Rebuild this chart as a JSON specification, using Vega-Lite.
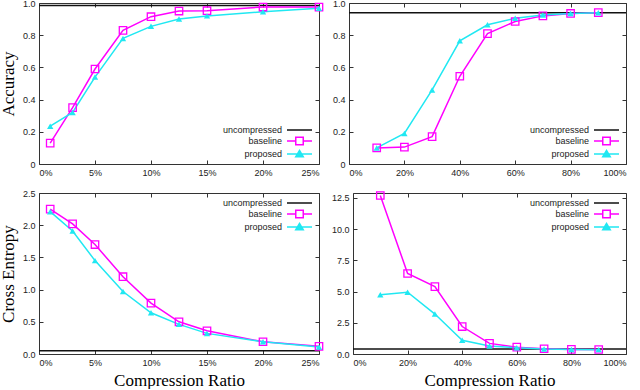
{
  "$schema": "https://vega.github.io/schema/vega-lite/v6.json",
  "padding": {"top": -2, "left": -2, "right": 0, "bottom": 0},
  "background": "white",
  "config": {
    "view": {"stroke": "#333", "strokeWidth": 1},
    "axis": {"labelFont": "Liberation Sans", "labelFontSize": 9, "labelColor": "#222", "tickColor": "#333", "tickSize": -4, "domain": false, "grid": false, "labelPadding": 8, "titleFont": "Liberation Serif", "titleFontSize": 17, "titleFontWeight": "normal", "titleColor": "#000"},
    "legend": {"labelFont": "Liberation Sans", "labelFontSize": 9, "labelColor": "#222", "symbolSize": 100, "symbolStrokeWidth": 1.5, "rowPadding": -1.5, "offset": 4, "padding": 0, "title": null}
  },
  "datasets": {
    "d": [
      {"panel": "TL", "series": "uncompressed", "ratio": 0, "value": 0.985},
      {"panel": "TL", "series": "uncompressed", "ratio": 25, "value": 0.985},
      {"panel": "TL", "series": "baseline", "ratio": 1, "value": 0.13},
      {"panel": "TL", "series": "baseline", "ratio": 3, "value": 0.35},
      {"panel": "TL", "series": "baseline", "ratio": 5, "value": 0.59},
      {"panel": "TL", "series": "baseline", "ratio": 7.5, "value": 0.83},
      {"panel": "TL", "series": "baseline", "ratio": 10, "value": 0.915},
      {"panel": "TL", "series": "baseline", "ratio": 12.5, "value": 0.95},
      {"panel": "TL", "series": "baseline", "ratio": 15, "value": 0.952},
      {"panel": "TL", "series": "baseline", "ratio": 20, "value": 0.975},
      {"panel": "TL", "series": "baseline", "ratio": 25, "value": 0.975},
      {"panel": "TL", "series": "proposed", "ratio": 1, "value": 0.235},
      {"panel": "TL", "series": "proposed", "ratio": 3, "value": 0.32},
      {"panel": "TL", "series": "proposed", "ratio": 5, "value": 0.54},
      {"panel": "TL", "series": "proposed", "ratio": 7.5, "value": 0.78},
      {"panel": "TL", "series": "proposed", "ratio": 10, "value": 0.855},
      {"panel": "TL", "series": "proposed", "ratio": 12.5, "value": 0.9},
      {"panel": "TL", "series": "proposed", "ratio": 15, "value": 0.92},
      {"panel": "TL", "series": "proposed", "ratio": 20, "value": 0.945},
      {"panel": "TL", "series": "proposed", "ratio": 25, "value": 0.968},
      {"panel": "TR", "series": "uncompressed", "ratio": 0, "value": 0.94},
      {"panel": "TR", "series": "uncompressed", "ratio": 100, "value": 0.94},
      {"panel": "TR", "series": "baseline", "ratio": 10, "value": 0.1},
      {"panel": "TR", "series": "baseline", "ratio": 20, "value": 0.105},
      {"panel": "TR", "series": "baseline", "ratio": 30, "value": 0.17},
      {"panel": "TR", "series": "baseline", "ratio": 40, "value": 0.545},
      {"panel": "TR", "series": "baseline", "ratio": 50, "value": 0.81},
      {"panel": "TR", "series": "baseline", "ratio": 60, "value": 0.885},
      {"panel": "TR", "series": "baseline", "ratio": 70, "value": 0.92},
      {"panel": "TR", "series": "baseline", "ratio": 80, "value": 0.935},
      {"panel": "TR", "series": "baseline", "ratio": 90, "value": 0.94},
      {"panel": "TR", "series": "proposed", "ratio": 10, "value": 0.1},
      {"panel": "TR", "series": "proposed", "ratio": 20, "value": 0.19},
      {"panel": "TR", "series": "proposed", "ratio": 30, "value": 0.46},
      {"panel": "TR", "series": "proposed", "ratio": 40, "value": 0.765},
      {"panel": "TR", "series": "proposed", "ratio": 50, "value": 0.865},
      {"panel": "TR", "series": "proposed", "ratio": 60, "value": 0.905},
      {"panel": "TR", "series": "proposed", "ratio": 70, "value": 0.925},
      {"panel": "TR", "series": "proposed", "ratio": 80, "value": 0.935},
      {"panel": "TR", "series": "proposed", "ratio": 90, "value": 0.94},
      {"panel": "BL", "series": "uncompressed", "ratio": 0, "value": 0.05},
      {"panel": "BL", "series": "uncompressed", "ratio": 25, "value": 0.05},
      {"panel": "BL", "series": "baseline", "ratio": 1, "value": 2.25},
      {"panel": "BL", "series": "baseline", "ratio": 3, "value": 2.02},
      {"panel": "BL", "series": "baseline", "ratio": 5, "value": 1.7},
      {"panel": "BL", "series": "baseline", "ratio": 7.5, "value": 1.2},
      {"panel": "BL", "series": "baseline", "ratio": 10, "value": 0.79},
      {"panel": "BL", "series": "baseline", "ratio": 12.5, "value": 0.5},
      {"panel": "BL", "series": "baseline", "ratio": 15, "value": 0.36},
      {"panel": "BL", "series": "baseline", "ratio": 20, "value": 0.19},
      {"panel": "BL", "series": "baseline", "ratio": 25, "value": 0.12},
      {"panel": "BL", "series": "proposed", "ratio": 1, "value": 2.21},
      {"panel": "BL", "series": "proposed", "ratio": 3, "value": 1.91},
      {"panel": "BL", "series": "proposed", "ratio": 5, "value": 1.45},
      {"panel": "BL", "series": "proposed", "ratio": 7.5, "value": 0.97},
      {"panel": "BL", "series": "proposed", "ratio": 10, "value": 0.64},
      {"panel": "BL", "series": "proposed", "ratio": 12.5, "value": 0.46},
      {"panel": "BL", "series": "proposed", "ratio": 15, "value": 0.32},
      {"panel": "BL", "series": "proposed", "ratio": 20, "value": 0.19},
      {"panel": "BL", "series": "proposed", "ratio": 25, "value": 0.11},
      {"panel": "BR", "series": "uncompressed", "ratio": 0, "value": 0.4},
      {"panel": "BR", "series": "uncompressed", "ratio": 100, "value": 0.4},
      {"panel": "BR", "series": "baseline", "ratio": 10, "value": 12.7},
      {"panel": "BR", "series": "baseline", "ratio": 20, "value": 6.45},
      {"panel": "BR", "series": "baseline", "ratio": 30, "value": 5.4},
      {"panel": "BR", "series": "baseline", "ratio": 40, "value": 2.2},
      {"panel": "BR", "series": "baseline", "ratio": 50, "value": 0.85},
      {"panel": "BR", "series": "baseline", "ratio": 60, "value": 0.55},
      {"panel": "BR", "series": "baseline", "ratio": 70, "value": 0.42},
      {"panel": "BR", "series": "baseline", "ratio": 80, "value": 0.37},
      {"panel": "BR", "series": "baseline", "ratio": 90, "value": 0.36},
      {"panel": "BR", "series": "proposed", "ratio": 10, "value": 4.75},
      {"panel": "BR", "series": "proposed", "ratio": 20, "value": 4.95},
      {"panel": "BR", "series": "proposed", "ratio": 30, "value": 3.2},
      {"panel": "BR", "series": "proposed", "ratio": 40, "value": 1.1},
      {"panel": "BR", "series": "proposed", "ratio": 50, "value": 0.65},
      {"panel": "BR", "series": "proposed", "ratio": 60, "value": 0.5},
      {"panel": "BR", "series": "proposed", "ratio": 70, "value": 0.4},
      {"panel": "BR", "series": "proposed", "ratio": 80, "value": 0.36},
      {"panel": "BR", "series": "proposed", "ratio": 90, "value": 0.35}
    ]
  },
  "data": {"name": "d"},
  "resolve": {"scale": {"color": "independent"}, "legend": {"color": "independent"}},
  "spacing": 10,
  "vconcat": [
    {
      "spacing": 5,
      "resolve": {"scale": {"color": "independent"}, "legend": {"color": "independent"}},
      "hconcat": [
        {
          "width": 280, "height": 161,
          "transform": [{"filter": "datum.panel === 'TL'"}],
          "resolve": {"axis": {"x": "independent", "y": "independent"}},
          "layer": [
            {
              "mark": {"type": "line", "strokeWidth": 1.5},
              "encoding": {
                "x": {"field": "ratio", "type": "quantitative", "scale": {"domain": [0, 25], "nice": false}, "axis": {"values": [0, 5, 10, 15, 20, 25], "labelExpr": "datum.value + '%'", "title": null}},
                "y": {"field": "value", "type": "quantitative", "scale": {"domain": [0, 1], "nice": false}, "axis": {"values": [0, 0.2, 0.4, 0.6, 0.8, 1.0], "labelExpr": "datum.value === 0 ? '0' : format(datum.value, '.1f')", "title": "Accuracy", "titlePadding": 5}},
                "color": {"field": "series", "type": "nominal", "scale": {"domain": ["uncompressed", "baseline", "proposed"], "range": ["#111111", "#ff00ff", "#20e8f2"]},
                  "legend": {"orient": "bottom-right", "encode": {
                    "labels": {"update": {"align": {"value": "right"}, "x": {"value": 0}}},
                    "symbols": {"update": {"x": {"value": 17.5}, "fill": {"signal": "datum.value === 'proposed' ? '#20e8f2' : 'transparent'"}, "shape": {"signal": "datum.value === 'uncompressed' ? 'M-2.5,0H2.5' : datum.value === 'baseline' ? 'M-2.5,0H-0.75M0.75,0H2.5M-0.75,-0.75H0.75V0.75H-0.75Z' : 'M-2.5,0H2.5M0,-0.7L0.75,0.55H-0.75Z'"}}}
                  }}}
              }
            },
            {
              "transform": [{"filter": "datum.series === 'baseline'"}],
              "mark": {"type": "point", "shape": "square", "filled": false, "size": 55, "strokeWidth": 1.3, "color": "#ff00ff", "opacity": 1},
              "encoding": {
                "x": {"field": "ratio", "type": "quantitative", "axis": {"orient": "top", "labels": false, "title": null, "values": [0, 5, 10, 15, 20, 25]}},
                "y": {"field": "value", "type": "quantitative", "axis": {"orient": "right", "labels": false, "title": null, "values": [0, 0.2, 0.4, 0.6, 0.8, 1.0]}}
              }
            },
            {
              "transform": [{"filter": "datum.series === 'proposed'"}],
              "mark": {"type": "point", "shape": "triangle-up", "filled": true, "size": 40, "color": "#20e8f2", "opacity": 1},
              "encoding": {
                "x": {"field": "ratio", "type": "quantitative", "axis": null},
                "y": {"field": "value", "type": "quantitative", "axis": null}
              }
            }
          ]
        },
        {
          "width": 277, "height": 161,
          "transform": [{"filter": "datum.panel === 'TR'"}],
          "resolve": {"axis": {"x": "independent", "y": "independent"}},
          "layer": [
            {
              "mark": {"type": "line", "strokeWidth": 1.5},
              "encoding": {
                "x": {"field": "ratio", "type": "quantitative", "scale": {"domain": [0, 100], "nice": false}, "axis": {"values": [0, 20, 40, 60, 80, 100], "labelExpr": "datum.value + '%'", "title": null}},
                "y": {"field": "value", "type": "quantitative", "scale": {"domain": [0, 1], "nice": false}, "axis": {"values": [0, 0.2, 0.4, 0.6, 0.8, 1.0], "labelExpr": "datum.value === 0 ? '0' : format(datum.value, '.1f')", "title": null}},
                "color": {"field": "series", "type": "nominal", "scale": {"domain": ["uncompressed", "baseline", "proposed"], "range": ["#111111", "#ff00ff", "#20e8f2"]},
                  "legend": {"orient": "bottom-right", "encode": {
                    "labels": {"update": {"align": {"value": "right"}, "x": {"value": 0}}},
                    "symbols": {"update": {"x": {"value": 17.5}, "fill": {"signal": "datum.value === 'proposed' ? '#20e8f2' : 'transparent'"}, "shape": {"signal": "datum.value === 'uncompressed' ? 'M-2.5,0H2.5' : datum.value === 'baseline' ? 'M-2.5,0H-0.75M0.75,0H2.5M-0.75,-0.75H0.75V0.75H-0.75Z' : 'M-2.5,0H2.5M0,-0.7L0.75,0.55H-0.75Z'"}}}
                  }}}
              }
            },
            {
              "transform": [{"filter": "datum.series === 'baseline'"}],
              "mark": {"type": "point", "shape": "square", "filled": false, "size": 55, "strokeWidth": 1.3, "color": "#ff00ff", "opacity": 1},
              "encoding": {
                "x": {"field": "ratio", "type": "quantitative", "axis": {"orient": "top", "labels": false, "title": null, "values": [0, 20, 40, 60, 80, 100]}},
                "y": {"field": "value", "type": "quantitative", "axis": {"orient": "right", "labels": false, "title": null, "values": [0, 0.2, 0.4, 0.6, 0.8, 1.0]}}
              }
            },
            {
              "transform": [{"filter": "datum.series === 'proposed'"}],
              "mark": {"type": "point", "shape": "triangle-up", "filled": true, "size": 40, "color": "#20e8f2", "opacity": 1},
              "encoding": {
                "x": {"field": "ratio", "type": "quantitative", "axis": null},
                "y": {"field": "value", "type": "quantitative", "axis": null}
              }
            }
          ]
        }
      ]
    },
    {
      "spacing": 4,
      "resolve": {"scale": {"color": "independent"}, "legend": {"color": "independent"}},
      "hconcat": [
        {
          "width": 280, "height": 161,
          "transform": [{"filter": "datum.panel === 'BL'"}],
          "resolve": {"axis": {"x": "independent", "y": "independent"}},
          "layer": [
            {
              "mark": {"type": "line", "strokeWidth": 1.5},
              "encoding": {
                "x": {"field": "ratio", "type": "quantitative", "scale": {"domain": [0, 25], "nice": false}, "axis": {"values": [0, 5, 10, 15, 20, 25], "labelExpr": "datum.value + '%'", "title": "Compression Ratio", "titlePadding": 5}},
                "y": {"field": "value", "type": "quantitative", "scale": {"domain": [0, 2.5], "nice": false}, "axis": {"values": [0, 0.5, 1.0, 1.5, 2.0, 2.5], "format": ".1f", "title": "Cross Entropy", "titlePadding": 5}},
                "color": {"field": "series", "type": "nominal", "scale": {"domain": ["uncompressed", "baseline", "proposed"], "range": ["#111111", "#ff00ff", "#20e8f2"]},
                  "legend": {"orient": "top-right", "encode": {
                    "labels": {"update": {"align": {"value": "right"}, "x": {"value": 0}}},
                    "symbols": {"update": {"x": {"value": 17.5}, "fill": {"signal": "datum.value === 'proposed' ? '#20e8f2' : 'transparent'"}, "shape": {"signal": "datum.value === 'uncompressed' ? 'M-2.5,0H2.5' : datum.value === 'baseline' ? 'M-2.5,0H-0.75M0.75,0H2.5M-0.75,-0.75H0.75V0.75H-0.75Z' : 'M-2.5,0H2.5M0,-0.7L0.75,0.55H-0.75Z'"}}}
                  }}}
              }
            },
            {
              "transform": [{"filter": "datum.series === 'baseline'"}],
              "mark": {"type": "point", "shape": "square", "filled": false, "size": 55, "strokeWidth": 1.3, "color": "#ff00ff", "opacity": 1},
              "encoding": {
                "x": {"field": "ratio", "type": "quantitative", "axis": {"orient": "top", "labels": false, "title": null, "values": [0, 5, 10, 15, 20, 25]}},
                "y": {"field": "value", "type": "quantitative", "axis": {"orient": "right", "labels": false, "title": null, "values": [0, 0.5, 1.0, 1.5, 2.0, 2.5]}}
              }
            },
            {
              "transform": [{"filter": "datum.series === 'proposed'"}],
              "mark": {"type": "point", "shape": "triangle-up", "filled": true, "size": 40, "color": "#20e8f2", "opacity": 1},
              "encoding": {
                "x": {"field": "ratio", "type": "quantitative", "axis": null},
                "y": {"field": "value", "type": "quantitative", "axis": null}
              }
            }
          ]
        },
        {
          "width": 273, "height": 161,
          "transform": [{"filter": "datum.panel === 'BR'"}],
          "resolve": {"axis": {"x": "independent", "y": "independent"}},
          "layer": [
            {
              "mark": {"type": "line", "strokeWidth": 1.5},
              "encoding": {
                "x": {"field": "ratio", "type": "quantitative", "scale": {"domain": [0, 100], "nice": false}, "axis": {"values": [0, 20, 40, 60, 80, 100], "labelExpr": "datum.value + '%'", "title": "Compression Ratio", "titlePadding": 5}},
                "y": {"field": "value", "type": "quantitative", "scale": {"domain": [0, 12.9], "nice": false}, "axis": {"values": [0, 2.5, 5, 7.5, 10, 12.5], "format": ".1f", "title": null}},
                "color": {"field": "series", "type": "nominal", "scale": {"domain": ["uncompressed", "baseline", "proposed"], "range": ["#111111", "#ff00ff", "#20e8f2"]},
                  "legend": {"orient": "top-right", "encode": {
                    "labels": {"update": {"align": {"value": "right"}, "x": {"value": 0}}},
                    "symbols": {"update": {"x": {"value": 17.5}, "fill": {"signal": "datum.value === 'proposed' ? '#20e8f2' : 'transparent'"}, "shape": {"signal": "datum.value === 'uncompressed' ? 'M-2.5,0H2.5' : datum.value === 'baseline' ? 'M-2.5,0H-0.75M0.75,0H2.5M-0.75,-0.75H0.75V0.75H-0.75Z' : 'M-2.5,0H2.5M0,-0.7L0.75,0.55H-0.75Z'"}}}
                  }}}
              }
            },
            {
              "transform": [{"filter": "datum.series === 'baseline'"}],
              "mark": {"type": "point", "shape": "square", "filled": false, "size": 55, "strokeWidth": 1.3, "color": "#ff00ff", "opacity": 1},
              "encoding": {
                "x": {"field": "ratio", "type": "quantitative", "axis": {"orient": "top", "labels": false, "title": null, "values": [0, 20, 40, 60, 80, 100]}},
                "y": {"field": "value", "type": "quantitative", "axis": {"orient": "right", "labels": false, "title": null, "values": [0, 2.5, 5, 7.5, 10, 12.5]}}
              }
            },
            {
              "transform": [{"filter": "datum.series === 'proposed'"}],
              "mark": {"type": "point", "shape": "triangle-up", "filled": true, "size": 40, "color": "#20e8f2", "opacity": 1},
              "encoding": {
                "x": {"field": "ratio", "type": "quantitative", "axis": null},
                "y": {"field": "value", "type": "quantitative", "axis": null}
              }
            }
          ]
        }
      ]
    }
  ]
}
